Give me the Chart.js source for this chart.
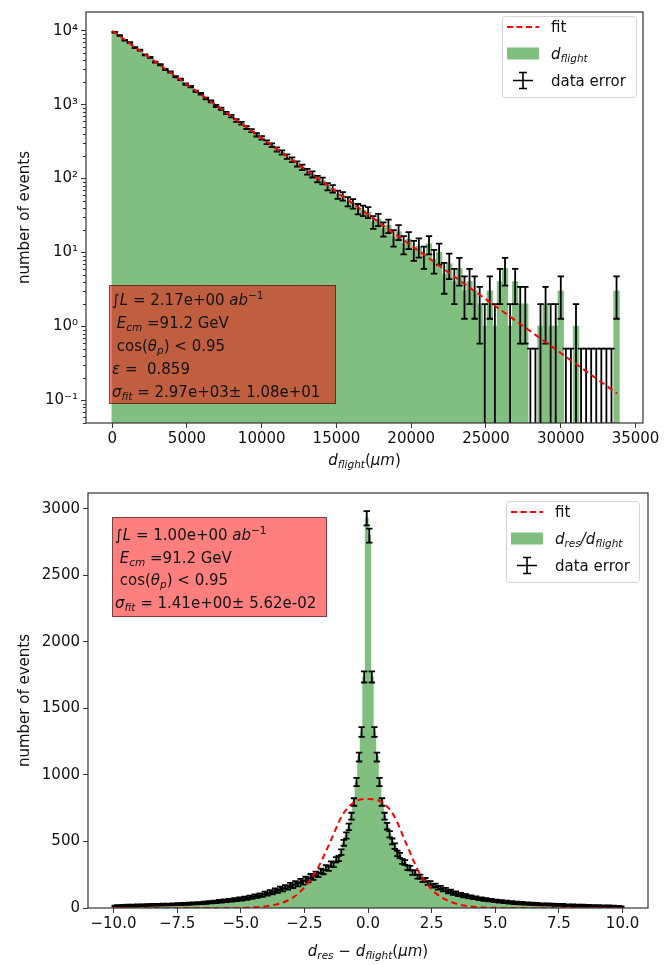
<!DOCTYPE html>
<html>
<head>
<meta charset="utf-8">
<script src="https://cdn.jsdelivr.net/npm/chart.js@4.4.0/dist/chart.umd.min.js"></script>
<style>
  html, body { margin: 0; padding: 0; background: #fff; }
  canvas { position: absolute; left: 0; }
  #top { top: 0; }
  #bottom { top: 475px; }
</style>
</head>
<body>
<canvas id="top" width="672" height="475"></canvas>
<canvas id="bottom" width="672" height="490"></canvas>
<script>
// ---------- top panel: d_flight histogram, 100 bins over 0 .. 33900 um
var flightRange = [0, 33900];
var flightCounts = [
  9520, 8610, 7420, 6890, 5910, 5460, 4700, 4360, 3760, 3460,
  2990, 2760, 2380, 2200, 1900, 1750, 1510, 1400, 1210, 1110,
  960, 880, 770, 700, 610, 560, 490, 445, 390, 355,
  310, 282, 248, 226, 198, 180, 158, 142, 124, 114,
  99, 93, 78, 73, 61, 58, 49, 46, 39, 37,
  35, 26, 28, 21, 23, 16, 19, 13, 15, 11,
  12, 9, 13, 8, 10, 5, 7, 4, 6, 3,
  4, 3, 2, 1, 3, 1, 4, 6, 1, 4,
  2, 2, 0, 0, 1, 2, 1, 1, 3, 0,
  0, 1, 0, 0, 0, 0, 0, 0, 0, 3
];
var flightFitX = [0, 5000, 10000, 15000, 20000, 25000, 30000, 33760];
var flightFitY = [10000, 1875, 352, 66, 12.4, 2.32, 0.436, 0.124];
var flightXTicks = [0, 5000, 10000, 15000, 20000, 25000, 30000, 35000];
var flightYTicks = [0.1, 1, 10, 100, 1000, 10000];

// ---------- bottom panel: d_res - d_flight histogram, 200 bins over -10 .. 10 um
var resRange = [-10, 10];
var resCounts = [
  14, 18, 13, 19, 15, 20, 16, 21, 17, 22,
  19, 23, 20, 24, 21, 25, 22, 26, 23, 27,
  24, 28, 25, 30, 26, 31, 27, 33, 29, 34,
  31, 36, 33, 38, 35, 41, 38, 45, 41, 49,
  44, 53, 48, 57, 51, 61, 55, 66, 60, 72,
  64, 77, 70, 84, 77, 92, 85, 100, 94, 112,
  104, 123, 114, 135, 126, 148, 137, 160, 151, 175,
  163, 189, 176, 204, 190, 220, 208, 240, 227, 258,
  248, 280, 270, 304, 296, 332, 325, 363, 372, 420,
  490, 545, 610, 690, 797, 947, 1135, 1323, 1737, 2930,
  2800, 1737, 1323, 1135, 947, 797, 690, 615, 555, 500,
  465, 410, 395, 350, 342, 302, 300, 266, 266, 236,
  236, 210, 211, 187, 188, 167, 170, 150, 154, 136,
  139, 122, 126, 110, 114, 99, 103, 90, 94, 82,
  86, 75, 79, 68, 72, 62, 66, 57, 61, 52,
  56, 47, 52, 43, 48, 40, 45, 36, 42, 34,
  39, 32, 36, 29, 34, 27, 32, 25, 30, 24,
  29, 23, 27, 21, 26, 20, 25, 19, 23, 18,
  22, 17, 21, 16, 20, 15, 19, 14, 18, 13,
  17, 12, 16, 11, 15, 11, 14, 10, 13, 9
];
var resFitX = [-10, -6, -5, -4.5, -4, -3.5, -3, -2.5, -2, -1.5, -1, -0.5, 0, 0.5, 1, 1.5, 2, 2.5, 3, 3.5, 4, 4.5, 5, 6, 10];
var resFitY = [0, 0, 1, 5, 13, 32, 72, 155, 290, 490, 700, 800, 820, 800, 700, 485, 270, 140, 68, 30, 12, 4, 1, 0, 0];
var resXTicks = [-10, -7.5, -5, -2.5, 0, 2.5, 5, 7.5, 10];
var resYTicks = [0, 500, 1000, 1500, 2000, 2500, 3000];

var FONT = '"DejaVu Sans", sans-serif';
var GREEN = '#80bf80';

function centersOf(range, n) {
  var w = (range[1] - range[0]) / n, c = [];
  for (var i = 0; i < n; i++) c.push(range[0] + w * (i + 0.5));
  return c;
}

// text with italic parts and sub/superscripts: [text, 'n'|'i', -1 sub | 0 | 1 sup]
function segFont(s, size) {
  var sz = s[2] ? size * 0.7 : size;
  return (s[1] === 'i' ? 'italic ' : '') + sz + 'px ' + FONT;
}
function drawRich(ctx, segs, x, y, size, align) {
  var w = 0;
  segs.forEach(function (s) { ctx.font = segFont(s, size); w += ctx.measureText(s[0]).width; });
  var cx = align === 'center' ? x - w / 2 : x;
  ctx.textAlign = 'left';
  ctx.textBaseline = 'alphabetic';
  segs.forEach(function (s) {
    ctx.font = segFont(s, size);
    var dy = s[2] === -1 ? size * 0.22 : (s[2] === 1 ? -size * 0.4 : 0);
    ctx.fillText(s[0], cx, y + dy);
    cx += ctx.measureText(s[0]).width;
  });
}

function supNum(n) {
  var m = {'-': '⁻', '0': '⁰', '1': '¹', '2': '²', '3': '³', '4': '⁴', '5': '⁵'};
  return String(n).split('').map(function (c) { return m[c]; }).join('');
}

var decor = {
  id: 'decor',
  beforeDatasetDraw: function (chart, args, o) {
    if (args.index !== 1) return;
    var xs = chart.scales.x, ys = chart.scales.y, a = chart.chartArea, ctx = chart.ctx;
    ctx.save();
    ctx.beginPath();
    ctx.rect(a.left, a.top, a.right - a.left, a.bottom - a.top);
    ctx.clip();
    ctx.strokeStyle = '#000';
    ctx.lineWidth = 1.8;
    o.centers.forEach(function (c, i) {
      var v = o.counts[i];
      var e = v > 0 ? Math.sqrt(v) : 0.5;
      var px = xs.getPixelForValue(c);
      var top = ys.getPixelForValue(v + e);
      var lo = v - e;
      var bot = lo > 0 ? ys.getPixelForValue(lo) : a.bottom + 3;
      ctx.beginPath();
      ctx.moveTo(px, top); ctx.lineTo(px, bot);
      ctx.moveTo(px - 3.2, top); ctx.lineTo(px + 3.2, top);
      if (lo > 0) { ctx.moveTo(px - 3.2, bot); ctx.lineTo(px + 3.2, bot); }
      ctx.stroke();
    });
    ctx.restore();
  },
  afterDraw: function (chart, args, o) {
    var a = chart.chartArea, ctx = chart.ctx, ys = chart.scales.y;
    ctx.save();
    // minor ticks on log axis
    if (o.minor) {
      ctx.strokeStyle = '#333'; ctx.lineWidth = 1;
      ctx.beginPath();
      o.minor.forEach(function (v) {
        var py = Math.round(ys.getPixelForValue(v)) + 0.5;
        ctx.moveTo(a.left - 3, py); ctx.lineTo(a.left, py);
      });
      ctx.stroke();
    }
    // frame
    ctx.strokeStyle = '#333'; ctx.lineWidth = 1.2;
    ctx.strokeRect(a.left, a.top, a.right - a.left, a.bottom - a.top);
    // info box
    var b = o.box;
    ctx.fillStyle = 'rgba(255,0,0,0.5)';
    ctx.strokeStyle = 'rgba(0,0,0,0.5)'; ctx.lineWidth = 1;
    ctx.fillRect(b.x, b.y, b.w, b.h);
    ctx.strokeRect(b.x + 0.5, b.y + 0.5, b.w - 1, b.h - 1);
    ctx.fillStyle = '#111';
    b.lines.forEach(function (l, i) { drawRich(ctx, l, b.x + 3, b.y + b.first + i * b.step, 15, 'left'); });
    // legend
    var L = o.legend;
    ctx.fillStyle = 'rgba(255,255,255,0.8)';
    ctx.strokeStyle = '#d4d4d4'; ctx.lineWidth = 1;
    ctx.beginPath();
    ctx.roundRect(L.x + 0.5, L.y + 0.5, L.w, L.h, 3);
    ctx.fill(); ctx.stroke();
    var hx = L.x + 5, hw = 32, tx = L.x + 49;
    var r0 = L.y + 11, r1 = r0 + 26.5, r2 = r1 + 27;
    ctx.strokeStyle = 'red'; ctx.lineWidth = 2; ctx.setLineDash([6, 3.5]);
    ctx.beginPath(); ctx.moveTo(hx, r0); ctx.lineTo(hx + hw, r0); ctx.stroke();
    ctx.setLineDash([]);
    ctx.fillStyle = GREEN; ctx.fillRect(hx, r1 - 6, hw, 12);
    ctx.strokeStyle = '#000'; ctx.lineWidth = 1.6;
    var cx = hx + hw / 2;
    ctx.beginPath();
    ctx.moveTo(cx, r2 - 8); ctx.lineTo(cx, r2 + 8);
    ctx.moveTo(cx - 4, r2 - 8); ctx.lineTo(cx + 4, r2 - 8);
    ctx.moveTo(cx - 4, r2 + 8); ctx.lineTo(cx + 4, r2 + 8);
    ctx.moveTo(cx - 10, r2); ctx.lineTo(cx + 10, r2);
    ctx.stroke();
    ctx.fillStyle = '#111';
    drawRich(ctx, [['fit', 'n']], tx, r0 + 5, 15, 'left');
    drawRich(ctx, L.label, tx, r1 + 5, 15, 'left');
    drawRich(ctx, [['data error', 'n']], tx, r2 + 5, 15, 'left');
    // x axis title
    drawRich(ctx, o.xTitle, (a.left + a.right) / 2, a.bottom + o.xTitleDy, 15, 'center');
    ctx.restore();
  }
};

function tickFont() { return { family: FONT, size: 15 }; }

// ---------- top chart
var flightCenters = centersOf(flightRange, flightCounts.length);
var flightMinor = [];
[0.01, 0.1, 1, 10, 100, 1000, 10000].forEach(function (d) {
  for (var k = 2; k <= 9; k++) if (d * k > 0.0493 && d * k < 17900) flightMinor.push(d * k);
});

new Chart(document.getElementById('top'), {
  type: 'bar',
  data: {
    datasets: [{
      type: 'bar',
      data: flightCenters.map(function (c, i) { return { x: c, y: flightCounts[i] }; }),
      backgroundColor: GREEN, borderWidth: 0, inflateAmount: 0.6,
      barPercentage: 1, categoryPercentage: 1, order: 1
    }, {
      type: 'line',
      data: flightFitX.map(function (x, i) { return { x: x, y: flightFitY[i] }; }),
      borderColor: 'red', borderWidth: 2, borderDash: [6, 4],
      pointRadius: 0, fill: false, order: 0
    }]
  },
  options: {
    responsive: false, animation: false,
    layout: { padding: { top: 6, right: 29, left: 0, bottom: 0 } },
    plugins: {
      legend: { display: false }, tooltip: { enabled: false },
      decor: {
        centers: flightCenters, counts: flightCounts, minor: flightMinor,
        box: { x: 109, y: 285, w: 227, h: 119, first: 20, step: 23, lines: [
          [['∫', 'n'], ['L', 'i'], [' = 2.17e+00 ', 'n'], ['ab', 'i'], ['−1', 'n', 1]],
          [[' ', 'n'], ['E', 'i'], ['cm', 'i', -1], [' =91.2 GeV', 'n']],
          [[' cos(', 'n'], ['θ', 'i'], ['p', 'i', -1], [') < 0.95', 'n']],
          [['ε', 'i'], [' =  0.859', 'n']],
          [['σ', 'i'], ['fit', 'i', -1], [' = 2.97e+03± 1.08e+01', 'n']]
        ] },
        legend: { x: 502, y: 16, w: 134, h: 81, label: [['d', 'i'], ['flight', 'i', -1]] },
        xTitle: [['d', 'i'], ['flight', 'i', -1], ['(', 'n'], ['μm', 'i'], [')', 'n']],
        xTitleDy: 42
      }
    },
    scales: {
      x: {
        type: 'linear', min: -1750, max: 35500, offset: false,
        afterBuildTicks: function (s) { s.ticks = flightXTicks.map(function (v) { return { value: v }; }); },
        afterFit: function (s) { s.height = 52; },
        ticks: { font: tickFont(), color: '#111', padding: 2, maxRotation: 0, autoSkip: false,
          callback: function (v) { return String(v); } },
        grid: { drawOnChartArea: false, offset: false, tickLength: 5, color: '#333' },
        border: { display: false }
      },
      y: {
        type: 'logarithmic', min: 0.0493, max: 17900,
        afterBuildTicks: function (s) { s.ticks = flightYTicks.map(function (v) { return { value: v }; }); },
        afterFit: function (s) { s.width = 86; },
        ticks: { font: tickFont(), color: '#111', padding: 3, autoSkip: false,
          callback: function (v) { return '10' + supNum(Math.round(Math.log10(v))); } },
        grid: { drawOnChartArea: false, tickLength: 5, color: '#333' },
        border: { display: false },
        title: { display: true, text: 'number of events', font: tickFont(), color: '#111', padding: { top: 16, bottom: 0 } }
      }
    }
  },
  plugins: [decor]
});

// ---------- bottom chart
var resCenters = centersOf(resRange, resCounts.length);

new Chart(document.getElementById('bottom'), {
  type: 'bar',
  data: {
    datasets: [{
      type: 'bar',
      data: resCenters.map(function (c, i) { return { x: c, y: resCounts[i] }; }),
      backgroundColor: GREEN, borderWidth: 0, inflateAmount: 0.6,
      barPercentage: 1, categoryPercentage: 1, order: 1
    }, {
      type: 'line',
      data: resFitX.map(function (x, i) { return { x: x, y: resFitY[i] }; }),
      borderColor: 'red', borderWidth: 2, borderDash: [6, 4],
      cubicInterpolationMode: 'monotone',
      pointRadius: 0, fill: false, order: 0
    }]
  },
  options: {
    responsive: false, animation: false,
    layout: { padding: { top: 18, right: 24, left: 0, bottom: 0 } },
    plugins: {
      legend: { display: false }, tooltip: { enabled: false },
      decor: {
        centers: resCenters, counts: resCounts,
        box: { x: 112, y: 42, w: 215, h: 100, first: 23, step: 22.5, lines: [
          [['∫', 'n'], ['L', 'i'], [' = 1.00e+00 ', 'n'], ['ab', 'i'], ['−1', 'n', 1]],
          [[' ', 'n'], ['E', 'i'], ['cm', 'i', -1], [' =91.2 GeV', 'n']],
          [[' cos(', 'n'], ['θ', 'i'], ['p', 'i', -1], [') < 0.95', 'n']],
          [['σ', 'i'], ['fit', 'i', -1], [' = 1.41e+00± 5.62e-02', 'n']]
        ] },
        legend: { x: 506, y: 26, w: 133, h: 81, label: [['d', 'i'], ['res', 'i', -1], ['/', 'i'], ['d', 'i'], ['flight', 'i', -1]] },
        xTitle: [['d', 'i'], ['res', 'i', -1], [' − ', 'n'], ['d', 'i'], ['flight', 'i', -1], ['(', 'n'], ['μm', 'i'], [')', 'n']],
        xTitleDy: 48
      }
    },
    scales: {
      x: {
        type: 'linear', min: -11, max: 11, offset: false,
        afterBuildTicks: function (s) { s.ticks = resXTicks.map(function (v) { return { value: v }; }); },
        afterFit: function (s) { s.height = 57; },
        ticks: { font: tickFont(), color: '#111', padding: 2, maxRotation: 0, autoSkip: false,
          callback: function (v) { return v.toFixed(1).replace('-', '−'); } },
        grid: { drawOnChartArea: false, offset: false, tickLength: 5, color: '#333' },
        border: { display: false }
      },
      y: {
        type: 'linear', min: 0, max: 3120,
        afterBuildTicks: function (s) { s.ticks = resYTicks.map(function (v) { return { value: v }; }); },
        afterFit: function (s) { s.width = 88; },
        ticks: { font: tickFont(), color: '#111', padding: 3, autoSkip: false,
          callback: function (v) { return String(v); } },
        grid: { drawOnChartArea: false, tickLength: 5, color: '#333' },
        border: { display: false },
        title: { display: true, text: 'number of events', font: tickFont(), color: '#111', padding: { top: 16, bottom: 0 } }
      }
    }
  },
  plugins: [decor]
});
</script>
</body>
</html>
